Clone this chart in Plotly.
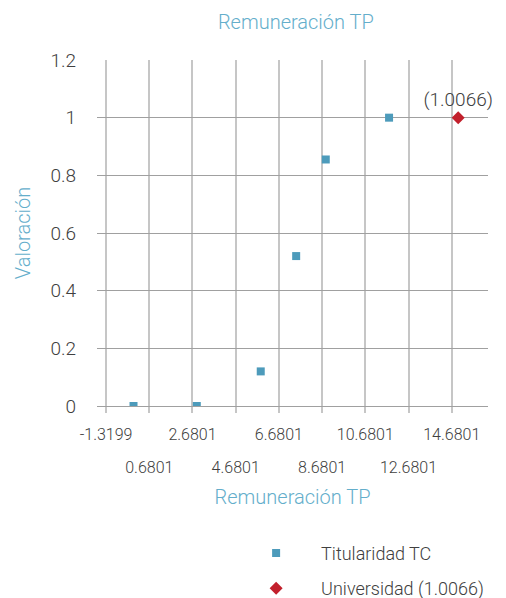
import plotly.graph_objects as go

# data
tit_x = [-0.05, 2.88, 5.84, 7.48, 8.85, 11.78]
tit_y = [0.0, 0.0, 0.12, 0.52, 0.855, 1.0]
uni_x = [14.98]
uni_y = [1.0]
uni_label = "(1.0066)"

x_ticks = [-1.3199, 0.6801, 2.6801, 4.6801, 6.6801, 8.6801, 10.6801, 12.6801, 14.6801]
y_ticks = [0, 0.2, 0.4, 0.6, 0.8, 1, 1.2]

BLUE = "#4d9bbb"
RED = "#c2202c"
TITLE_C = "#64aecb"
TXT = "#404040"
FONT = "Roboto"
XRANGE = [-1.74, 16.36]

# excel staggers the tick labels in two rows -> second row on an overlay axis
row1 = x_ticks[0::2]
row2 = x_ticks[1::2]

fig = go.Figure()
fig.add_trace(go.Scatter(
    x=tit_x, y=tit_y, mode="markers", name="Titularidad TC",
    xaxis="x2", legendgroup="a",
    marker=dict(symbol="square", size=8, color=BLUE),
))
fig.add_trace(go.Scatter(
    x=uni_x, y=uni_y, mode="markers+text", name="Universidad " + uni_label,
    legendgroup="b",
    text=[uni_label], textposition="top center",
    textfont=dict(size=19, color=TXT, family=FONT, weight=300),
    marker=dict(symbol="diamond", size=10, color=RED),
    cliponaxis=False,
))

tickfont = dict(size=16, color=TXT, family=FONT, weight=300)
titlefont = dict(size=20, color=TITLE_C, family=FONT, weight=300)

fig.update_layout(
    xaxis=dict(
        range=XRANGE, automargin=False,
        tickvals=x_ticks, ticktext=["%g" % v if v in row1 else "" for v in x_ticks],
        tickangle=0, ticklabelstandoff=8,
        showgrid=True, gridcolor="#c6c6c6", gridwidth=1.5,
        ticks="outside", ticklen=6, tickcolor="#c6c6c6", tickwidth=1.5,
        zeroline=False, showline=True, linecolor="#a0a0a0", linewidth=1,
        tickfont=tickfont,
    ),
    xaxis2=dict(
        range=XRANGE, automargin=False, overlaying="x", anchor="y", side="bottom",
        tickvals=row2, ticktext=["%g" % v for v in row2],
        tickangle=0, ticklabelstandoff=50,
        showgrid=False, zeroline=False, showline=False, ticks="",
        tickfont=tickfont,
        title=dict(text="Remuneración TP", font=titlefont, standoff=13),
    ),
    yaxis=dict(
        range=[0, 1.2], automargin=False,
        tickvals=y_ticks, ticktext=["%g" % v for v in y_ticks],
        showgrid=True, gridcolor="#a0a0a0", gridwidth=1,
        zeroline=False, showline=False,
        ticks="", ticklabelstandoff=20,
        tickfont=dict(size=19, color=TXT, family=FONT, weight=300),
        title=dict(text="Valoración", font=titlefont, standoff=14),
    ),
)

# page body adds an 8px offset, so the figure is 8px smaller on top/left
fig.update_layout(
    width=498, height=590,
    margin=dict(l=89, r=18, t=52, b=192, autoexpand=False),
    plot_bgcolor="white", paper_bgcolor="white",
    title=dict(text="Remuneración TP", x=0.578, xanchor="center", y=0.976, yanchor="middle",
               font=titlefont),
    legend=dict(x=0.343, xanchor="left", y=-0.372, yanchor="top",
                font=dict(size=18, color=TXT, family=FONT, weight=300),
                itemwidth=80, tracegroupgap=9),
    showlegend=True,
)

fig.write_html("out.html")
